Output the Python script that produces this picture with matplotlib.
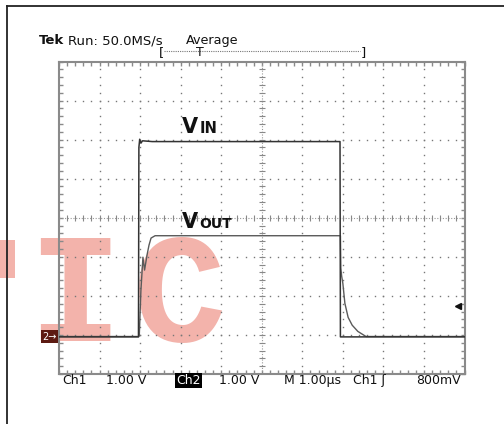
import matplotlib
matplotlib.use("Agg")
from matplotlib import pyplot as plt
from matplotlib.lines import Line2D
from matplotlib.patches import Rectangle
import numpy as np

# scope settings
volts_per_div = 1.0
ground_ch1 = 0.95      # divisions from bottom
ground_ch2 = 0.96
trigger_level = 0.8    # V

# traces (time in us, 1 us/div)
t_in = [0.0, 1.96, 1.97, 1.99, 2.02, 2.06, 2.30, 6.93, 6.94, 10.0]
v_in = [0.0, 0.0, 4.85, 5.06, 4.96, 5.02, 5.00, 5.00, 0.0, 0.0]

t_out = [0.0, 1.97, 1.98, 2.02, 2.07, 2.11, 2.17, 2.22, 2.27, 2.37,
         6.94, 6.95, 6.97, 7.00, 7.05, 7.13, 7.23, 7.37, 7.57, 10.0]
v_out = [0.0, 0.0, 0.03, 1.18, 2.03, 1.70, 2.08, 2.34, 2.52, 2.58,
         2.58, 1.75, 1.55, 1.36, 0.85, 0.49, 0.29, 0.13, 0.0, 0.0]

W, H = 504, 424


def px(x, y):
    # pixel position -> figure fraction
    return x / W, 1 - y / H


fig = plt.figure(figsize=(W / 100, H / 100), dpi=100)
fig.set_facecolor("white")
plt.rcParams['font.family'] = ['DejaVu Sans']

# watermark behind everything
wm_color = "#f3b3ab"
wm = dict(family="Liberation Mono", weight="bold", fontsize=112,
          color=wm_color, ha="center", va="baseline", zorder=-5)
fig.text(*px(75, 341), "I", **wm)
fig.text(*px(180, 341), "C", **wm)
fig.add_artist(Rectangle(px(0, 278), 15 / W, 38 / H, transform=fig.transFigure,
                         fc=wm_color, ec="none", zorder=-5))

# outer frame (left + top)
fig.add_artist(Line2D([7 / W, 7 / W], [0, 1 - 6 / H], color="#222", lw=1.3))
fig.add_artist(Line2D([7 / W, 1], [1 - 6 / H, 1 - 6 / H], color="#222", lw=1.3))

ax = fig.add_axes([59 / W, (H - 374) / H, 405.5 / W, 312.5 / H])
ax.set_facecolor("none")
ax.set_xlim(0, 10)
ax.set_ylim(0, 8)
for s in ax.spines.values():
    s.set_color("#8a8a8a")
    s.set_linewidth(1.5)
ax.set_xticks(np.arange(0, 11, 1))
ax.set_yticks(np.arange(0, 9, 1))
ax.set_xticks(np.arange(0, 10.01, 0.2), minor=True)
ax.set_yticks(np.arange(0, 8.01, 0.2), minor=True)
ax.tick_params(which="both", direction="in", top=True, right=True,
               labelbottom=False, labelleft=False, color="#8a8a8a", width=1)
ax.tick_params(which="major", length=3)
ax.tick_params(which="minor", length=3)

# graticule dots
dots_x = np.arange(0, 10.01, 0.2)
dots_y = np.arange(0, 8.01, 0.2)
for gx in range(1, 10):
    if gx == 5:
        continue
    ax.plot(np.full_like(dots_y, gx), dots_y, ls="none", marker="s",
            ms=1.0, mew=0, color="#777")
for gy in range(1, 8):
    if gy == 4:
        continue
    ax.plot(dots_x, np.full_like(dots_x, gy), ls="none", marker="s",
            ms=1.0, mew=0, color="#777")
# centre lines with ticks
ax.axvline(5, color="#999", lw=0.8, ls=(0, (1, 1.5)))
ax.axhline(4, color="#999", lw=0.8, ls=(0, (1, 1.5)))
ax.plot(np.full_like(dots_y, 5), dots_y, ls="none", marker="_", ms=4,
        mew=0.8, color="#888")
ax.plot(dots_x, np.full_like(dots_x, 4), ls="none", marker="|", ms=4,
        mew=0.8, color="#888")

# traces
ax.plot(t_out, ground_ch2 + np.array(v_out) / volts_per_div,
        color="#5a5a5a", lw=1.0, zorder=4)
ax.plot(t_in, ground_ch1 + np.array(v_in) / volts_per_div,
        color="#333333", lw=1.1, zorder=5)

# trigger level arrow
ax.plot([9.85], [ground_ch1 + trigger_level / volts_per_div], marker="<",
        ms=5, color="#111", clip_on=False, zorder=6)

# ground marker for ch2
fig.text(42 / W, ax.transData.transform((0, ground_ch2))[1] / H, "2\u2192",
         fontsize=7, color="white", ha="left", va="center",
         bbox=dict(boxstyle="square,pad=0.15", fc="#5c1a12", ec="none"))

# trace labels
lab = dict(weight="bold", color="#111", va="baseline", ha="left")
fig.text(*px(182, 133), "V", fontsize=15, **lab)
fig.text(*px(200, 133), "IN", fontsize=10.5, **lab)
fig.text(*px(182, 228), "V", fontsize=15, **lab)
fig.text(*px(199, 228), "OUT", fontsize=10, **lab)

# header
hdr = dict(fontsize=9.5, color="#111", va="baseline", ha="left")
fig.text(*px(39, 44), "Tek", weight="bold", **hdr)
fig.text(*px(68, 44), "Run: 50.0MS/s", **hdr)
fig.text(*px(186, 44), "Average", fontsize=9.2, color="#111",
         va="baseline", ha="left")
fig.text(*px(159, 56), "[", **hdr)
fig.text(*px(361, 56), "]", **hdr)
fig.add_artist(Line2D([164 / W, 360 / W], [1 - 50.5 / H, 1 - 50.5 / H],
                      color="#777", lw=0.8, ls=(0, (1, 1))))
fig.text(*px(200, 56), "T", fontsize=9, color="#111", va="baseline",
         ha="center")

# footer
ftr = dict(fontsize=9, color="#111", va="baseline", ha="left")
fig.text(*px(62, 384), "Ch1", **ftr)
fig.text(*px(106, 384), "1.00 V", **ftr)
fig.text(*px(176, 384), "Ch2", fontsize=9, color="white", va="baseline",
         ha="left", bbox=dict(boxstyle="square,pad=0.1", fc="black", ec="none"))
fig.text(*px(219, 384), "1.00 V", **ftr)
fig.text(*px(284, 384), "M 1.00\u00b5s", **ftr)
fig.text(*px(353, 384), "Ch1 \u0283", **ftr)
fig.text(*px(416, 384), "800mV", **ftr)

fig.savefig("out.png", dpi=100, facecolor="white")
